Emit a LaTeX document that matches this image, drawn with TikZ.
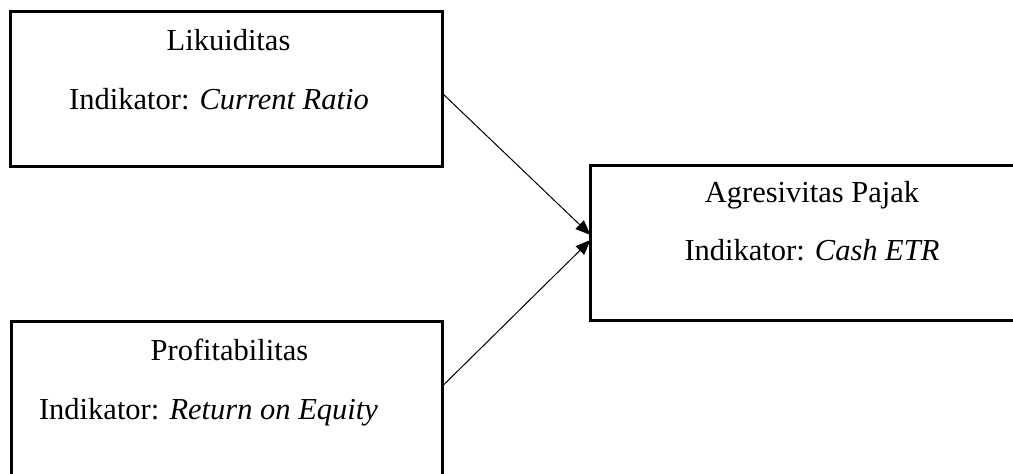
\documentclass[tikz,border=0pt]{standalone}
\usepackage{fontspec}
\setmainfont{Liberation Serif}
\usetikzlibrary{arrows.meta}
\begin{document}
\begin{tikzpicture}[x=1pt,y=1pt,
  box/.style={draw,line width=3pt,rectangle,inner sep=0pt,outer sep=0pt},
  lbl/.style={anchor=base,inner sep=0pt,font=\fontsize{30.5}{36}\selectfont},
  conn/.style={line width=1pt,-{Triangle[length=15pt,width=12pt]}}]
\useasboundingbox (0,0) rectangle (1013,474);
\clip (0,0) rectangle (1013,474);
\node[box,minimum width=432pt,minimum height=154.5pt] (b1) at (226,384.75) {};
\node[box,minimum width=439.5pt,minimum height=155pt] (b2) at (810.25,231) {};
\node[box,minimum width=431.5pt,minimum height=156pt] (b3) at (226.75,74) {};
\node[lbl] (t1a) at (228.5,423.3) {Likuiditas};
\node[lbl] (t1b) at (219,364) {Indikator: \textit{Current Ratio}};
\node[lbl] (t2a) at (812,271) {Agresivitas Pajak};
\node[lbl] (t2b) at (812,213) {Indikator: \textit{Cash ETR}};
\node[lbl] (t3a) at (229.5,113) {Profitabilitas};
\node[lbl] (t3b) at (208.5,54) {Indikator: \textit{Return on Equity}};
\coordinate (s1) at ([yshift=-3.75pt]b1.east);
\coordinate (e1) at ([yshift=8pt]b2.west);
\coordinate (s3) at ([yshift=14pt]b3.east);
\coordinate (e3) at ([yshift=3pt]b2.west);
\draw[conn] (s1) -- (e1);
\draw[conn] (s3) -- (e3);
\end{tikzpicture}
\end{document}
